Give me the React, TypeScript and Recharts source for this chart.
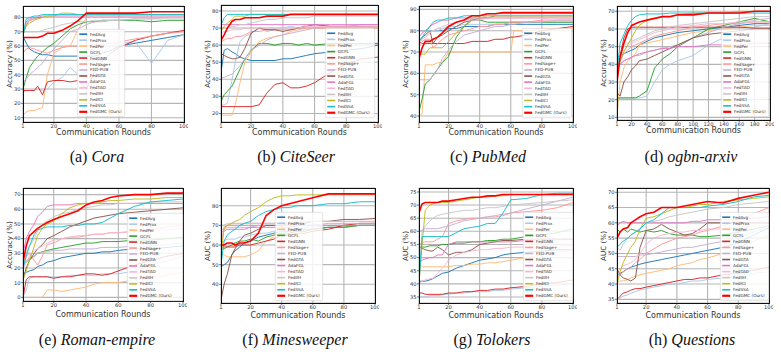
import React from 'react';
import { LineChart, Line, XAxis, YAxis, CartesianGrid } from 'recharts';

// ---- series (method) names and colours ----
const SERIES_NAMES = [
  'FedAvg', 'FedProx', 'FedPer', 'GCFL', 'FedGNN', 'FedSage+', 'FED-PUB',
  'FedGTA', 'AdaFGL', 'FedTAD', 'FedIIH', 'FedICI', 'FedSSA', 'FedGMC (Ours)',
];
const SERIES_COLORS = [
  '#1f77b4', '#aec7e8', '#ffbb78', '#2ca02c', '#d62728', '#ff9896', '#c5b0d5',
  '#8c564b', '#e377c2', '#f7b6d2', '#c7c7c7', '#bcbd22', '#17becf', '#ff0000',
];

// ---- tick labels ----
const X_TICKS_100 = [1, 20, 40, 60, 80, 100];
const X_TICKS_200 = [1, 20, 40, 60, 80, 100, 120, 140, 160, 180, 200];

// ---- communication rounds sampled per dataset ----
const rounds100 = [1, 3, 5, 8, 10, 13, 16, 20, 25, 30, 35, 40, 45, 50, 55, 60, 70, 80, 90, 100];
const pubmedRounds = [1, 3, 5, 8, 10, 13, 16, 20, 25, 30, 35, 40, 45, 50, 55, 60, 62, 70, 80, 90, 100];
const arxivRounds = [1, 5, 10, 15, 20, 25, 30, 40, 50, 60, 70, 80, 100, 120, 140, 160, 180, 200];

// ---- (a) Cora accuracy ----
const coraAcc: Record<string, number[]> = {
  'FedAvg': [67, 62, 58, 56, 55, 54, 54, 53, 53, 53, 53, 53, 53, 55, 57, 60, 62, 64, 66, 68],
  'FedProx': [28, 29, 29, 29, 30, 29, 30, 35, 38, 45, 40, 42, 50, 55, 60, 62, 63, 48, 64, 68],
  'FedPer': [12, 14, 15, 15, 16, 17, 40, 55, 59, 60, 72, 80, 80, 80, 80, 80, 80, 80, 80, 80],
  'GCFL': [30, 38, 45, 50, 53, 56, 59, 62, 67, 72, 75, 77, 77, 78, 78, 78, 78, 77, 78, 78],
  'FedGNN': [29, 29, 29, 29, 32, 26, 35, 36, 36, 35, 36, 30, 42, 50, 55, 59, 64, 67, 69, 71],
  'FedSage+': [55, 58, 59, 58, 57, 56, 55, 57, 59, 60, 60, 60, 61, 61, 62, 63, 65, 67, 69, 70],
  'FED-PUB': [35, 37, 40, 43, 45, 48, 53, 58, 64, 70, 72, 75, 77, 77, 78, 78, 79, 79, 80, 80],
  'FedGTA': [68, 75, 78, 79, 80, 80, 80, 80, 80, 80, 80, 80, 80, 80, 80, 80, 80, 80, 80, 80],
  'AdaFGL': [70, 77, 79, 80, 80, 81, 81, 81, 81, 81, 81, 81, 81, 81, 81, 81, 81, 81, 81, 81],
  'FedTAD': [69, 76, 78, 79, 79, 80, 80, 80, 80, 80, 80, 80, 80, 80, 80, 80, 80, 80, 80, 80],
  'FedIIH': [70, 70, 70, 70, 70, 71, 72, 73, 75, 76, 77, 77, 78, 78, 78, 78, 79, 79, 79, 79],
  'FedICI': [68, 74, 76, 78, 79, 80, 81, 81, 83, 83, 82, 82, 82, 82, 82, 82, 82, 82, 82, 82],
  'FedSSA': [67, 79, 80, 81, 81, 82, 82, 82, 82, 82, 82, 82, 82, 82, 82, 82, 82, 82, 82, 82],
  'FedGMC (Ours)': [66, 66, 66, 66, 66, 67, 69, 69, 71, 74, 78, 83, 83, 83, 83, 83, 83, 84, 84, 84],
};

// ---- (b) CiteSeer accuracy ----
const citeseerAcc: Record<string, number[]> = {
  'FedAvg': [44, 57, 58, 56, 55, 53, 52, 51, 51, 51, 51, 52, 52, 53, 54, 55, 56, 57, 58, 60],
  'FedProx': [25, 25, 26, 40, 50, 62, 65, 67, 70, 68, 69, 70, 71, 70, 72, 72, 71, 70, 71, 70],
  'FedPer': [19, 19, 19, 19, 25, 38, 50, 56, 62, 64, 65, 66, 68, 69, 70, 70, 70, 70, 70, 70],
  'GCFL': [27, 31, 33, 36, 40, 46, 52, 57, 61, 61, 60, 61, 61, 60, 61, 60, 61, 61, 61, 61],
  'FedGNN': [24, 24, 24, 24, 24, 24, 24, 24, 25, 32, 37, 38, 35, 35, 36, 38, 44, 49, 52, 53],
  'FedSage+': [62, 63, 64, 64, 65, 65, 66, 68, 68, 69, 69, 69, 69, 70, 70, 70, 70, 70, 70, 70],
  'FED-PUB': [41, 41, 42, 43, 45, 48, 52, 57, 60, 63, 65, 66, 67, 68, 69, 70, 71, 71, 72, 72],
  'FedGTA': [55, 54, 53, 52, 52, 53, 58, 67, 70, 69, 69, 68, 69, 70, 71, 72, 71, 71, 71, 71],
  'AdaFGL': [72, 72, 72, 72, 72, 72, 72, 72, 72, 72, 72, 72, 72, 72, 72, 72, 72, 72, 72, 72],
  'FedTAD': [67, 68, 68, 69, 69, 69, 70, 70, 70, 70, 70, 70, 70, 70, 71, 71, 71, 71, 71, 71],
  'FedIIH': [70, 70, 70, 71, 71, 72, 72, 73, 74, 75, 75, 76, 76, 76, 76, 77, 77, 77, 77, 77],
  'FedICI': [68, 71, 73, 75, 77, 77, 77, 78, 78, 78, 78, 78, 78, 78, 78, 78, 78, 78, 78, 78],
  'FedSSA': [72, 76, 78, 78, 78, 78, 78, 78, 78, 78, 78, 78, 78, 78, 78, 78, 78, 78, 78, 78],
  'FedGMC (Ours)': [63, 66, 70, 74, 75, 75, 76, 76, 76, 77, 77, 77, 78, 78, 78, 78, 78, 78, 78, 78],
};

// ---- (c) PubMed accuracy ----
const pubmedAcc: Record<string, number[]> = {
  'FedAvg': [80, 80, 80, 80, 80, 80, 80, 81, 81, 82, 82, 82, 82, 83, 83, 83, 83, 83, 83, 83, 83],
  'FedProx': [75, 76, 77, 79, 80, 80, 81, 82, 82, 83, 83, 83, 83, 83, 83, 84, 84, 84, 84, 84, 84],
  'FedPer': [40, 41, 64, 64, 64, 65, 65, 70, 70, 70, 70, 70, 70, 70, 70, 70, 80, 80, 81, 81, 81],
  'GCFL': [42, 48, 55, 57, 59, 62, 65, 68, 77, 82, 85, 85, 84, 84, 84, 84, 84, 84, 84, 84, 84],
  'FedGNN': [75, 74, 74, 74, 74, 74, 74, 74, 74, 74, 75, 75, 75, 76, 76, 77, 77, 78, 80, 81, 82],
  'FedSage+': [72, 75, 76, 76, 72, 74, 76, 78, 79, 80, 81, 82, 82, 83, 83, 84, 84, 84, 85, 85, 85],
  'FED-PUB': [57, 57, 57, 57, 59, 62, 67, 71, 75, 78, 79, 80, 81, 82, 82, 83, 83, 84, 84, 85, 85],
  'FedGTA': [75, 77, 78, 80, 74, 77, 78, 80, 82, 84, 85, 86, 86, 87, 87, 87, 87, 87, 87, 87, 87],
  'AdaFGL': [77, 79, 80, 82, 83, 84, 85, 85, 86, 86, 86, 86, 86, 86, 86, 86, 86, 86, 86, 86, 86],
  'FedTAD': [74, 76, 77, 79, 80, 81, 82, 83, 84, 85, 85, 85, 86, 86, 86, 86, 86, 86, 86, 86, 86],
  'FedIIH': [80, 80, 80, 80, 80, 81, 81, 82, 84, 85, 86, 86, 87, 87, 87, 87, 87, 87, 87, 87, 87],
  'FedICI': [69, 69, 69, 72, 72, 72, 72, 75, 79, 82, 86, 87, 87, 87, 87, 87, 87, 87, 87, 87, 87],
  'FedSSA': [75, 77, 79, 82, 84, 85, 85, 86, 86, 87, 87, 87, 88, 88, 88, 88, 88, 88, 88, 88, 88],
  'FedGMC (Ours)': [67, 72, 75, 75, 76, 77, 79, 82, 84, 85, 87, 87, 88, 88, 88.5, 88.5, 88.5, 88.5, 88.5, 88.5, 88.5],
};

// ---- (d) ogbn-arxiv accuracy ----
const arxivAcc: Record<string, number[]> = {
  'FedAvg': [44, 45, 46, 47, 48, 49, 51, 53, 55, 56, 57, 58, 59, 60, 61, 62, 63, 63],
  'FedProx': [20, 21, 21, 21, 21, 21, 21, 22, 30, 37, 40, 42, 45, 51, 55, 58, 61, 63],
  'FedPer': [10, 30, 38, 42, 44, 46, 51, 52, 53, 54, 55, 56, 58, 59, 60, 61, 62, 62],
  'GCFL': [21, 21, 21, 21, 21, 21, 22, 25, 38, 43, 46, 50, 55, 60, 62, 64, 66, 64],
  'FedGNN': [30, 45, 55, 60, 61, 61, 61, 61, 61, 61, 61, 61, 61, 61, 61, 61, 60.5, 60.5],
  'FedSage+': [35, 42, 46, 48, 50, 51, 52, 54, 56, 57, 58, 59, 61, 62, 63, 63, 64, 64],
  'FED-PUB': [38, 40, 42, 43, 44, 45, 45, 47, 48, 49, 50, 51, 55, 58, 61, 63, 65, 66],
  'FedGTA': [24, 22, 30, 33, 37, 39, 42, 43, 45, 47, 49, 51, 55, 57, 58, 59, 60, 60],
  'AdaFGL': [38, 40, 42, 43, 44, 45, 46, 47, 48, 49, 49, 50, 50, 51, 51, 51, 52, 52],
  'FedTAD': [40, 45, 48, 50, 52, 53, 54, 56, 58, 59, 60, 61, 62, 63, 63, 64, 64, 64],
  'FedIIH': [45, 47, 50, 52, 53, 54, 55, 57, 59, 60, 61, 62, 63, 64, 65, 66, 67, 67],
  'FedICI': [35, 42, 47, 51, 55, 59, 62, 65, 66, 67, 67, 68, 69, 69, 69, 70, 70, 70],
  'FedSSA': [35, 52, 57, 62, 65, 67, 68, 68.5, 68.5, 68.5, 69, 69, 69, 69, 69, 69, 69, 69],
  'FedGMC (Ours)': [30, 44, 52, 58, 62, 63, 64, 65, 66, 67, 67, 68, 68, 69, 69, 69, 70, 70],
};

// ---- (e) Roman-empire accuracy ----
const romanAcc: Record<string, number[]> = {
  'FedAvg': [16, 17, 18, 19, 21, 22, 24, 25, 27, 28, 29, 30, 30, 31, 31, 32, 33, 33, 34, 35],
  'FedProx': [0, 5, 13, 14, 14, 14, 14, 14, 14, 15, 15, 15, 15, 16, 16, 16, 18, 22, 25, 28],
  'FedPer': [0, 0, 0, 0, 0, 0, 5, 5, 4, 5, 6, 7, 9, 10, 10, 10, 12, 13, 15, 17],
  'GCFL': [22, 24, 26, 28, 30, 31, 32, 33, 34, 35, 36, 37, 37, 38, 38, 38, 39, 39, 40, 41],
  'FedGNN': [0, 12, 14, 14, 14, 14, 14, 13, 14, 14, 15, 16, 16, 15, 16, 18, 22, 25, 28, 30],
  'FedSage+': [20, 28, 30, 25, 22, 28, 36, 37, 40, 41, 41, 42, 43, 43, 44, 44, 45, 46, 48, 49],
  'FED-PUB': [22, 25, 27, 28, 30, 31, 31, 32, 32, 33, 33, 33, 33, 34, 34, 34, 35, 35, 36, 37],
  'FedGTA': [12, 20, 25, 30, 33, 36, 40, 42, 45, 48, 50, 52, 54, 55, 56, 57, 58, 59, 60, 61],
  'AdaFGL': [30, 40, 45, 50, 55, 58, 62, 63, 63, 63, 64, 64, 64, 64, 64, 64, 64, 64, 64, 64],
  'FedTAD': [18, 24, 28, 32, 33, 35, 37, 39, 40, 41, 42, 42, 43, 43, 44, 44, 45, 46, 46, 47],
  'FedIIH': [20, 30, 35, 40, 45, 50, 52, 55, 57, 58, 60, 61, 62, 63, 63, 64, 64, 65, 65, 65],
  'FedICI': [12, 18, 25, 35, 42, 47, 50, 52, 57, 61, 63, 64, 64, 65, 66, 66, 67, 67, 68, 68],
  'FedSSA': [20, 28, 35, 43, 46, 47, 48, 48, 48, 49, 49, 50, 50, 51, 54, 57, 62, 65, 66, 67],
  'FedGMC (Ours)': [24, 35, 42, 45, 47, 49, 51, 53, 55, 57, 59, 63, 65, 66, 68, 69, 70, 70, 71, 71],
};

// ---- (f) Minesweeper AUC ----
const minesweeperAuc: Record<string, number[]> = {
  'FedAvg': [49, 50, 51, 55, 57, 59, 61, 62, 64, 65, 66, 67, 67, 68, 68, 68, 69, 69, 70, 70],
  'FedProx': [61, 62, 63, 63, 63, 64, 64, 65, 66, 66, 67, 67, 68, 68, 69, 69, 70, 70, 71, 71],
  'FedPer': [55, 55, 54, 54, 54, 54, 54, 55, 57, 62, 64, 65, 66, 67, 67, 68, 69, 69, 70, 70],
  'GCFL': [58, 58, 59, 60, 61, 62, 62, 63, 62, 64, 65, 66, 66, 67, 67, 68, 69, 69, 70, 70],
  'FedGNN': [59, 59, 59, 59, 59, 60, 60, 60, 61, 62, 63, 65, 65, 66, 66, 67, 68, 70, 71, 71],
  'FedSage+': [62, 68, 70, 70, 70, 70, 71, 71, 71, 71, 71, 71, 71, 71, 71, 72, 72, 72, 72, 72],
  'FED-PUB': [68, 68, 69, 69, 69, 69, 69, 69, 70, 70, 70, 70, 70, 70, 70, 70, 71, 71, 71, 71],
  'FedGTA': [32, 40, 45, 55, 58, 62, 65, 66, 68, 70, 70, 70, 71, 71, 71, 72, 72, 73, 73, 73.5],
  'AdaFGL': [67, 67, 68, 68, 68, 68, 68, 69, 69, 69, 69, 69, 69, 70, 70, 70, 70, 70, 70, 70],
  'FedTAD': [55, 70, 70, 71, 71, 71, 71, 71, 71, 71, 71, 71, 71, 72, 72, 72, 72, 72, 72, 72],
  'FedIIH': [70, 70, 71, 71, 71, 71, 71, 71, 71, 71, 71, 71, 72, 72, 72, 72, 72, 72, 72, 72],
  'FedICI': [55, 69, 70, 71, 72, 73, 75, 77, 79, 82, 84, 85, 85, 85.5, 85.5, 85.5, 85.5, 85.5, 85.5, 85.5],
  'FedSSA': [50, 62, 65, 67, 68, 70, 71, 72, 75, 77, 78, 79, 79, 80, 80, 80, 81, 81, 82, 82],
  'FedGMC (Ours)': [60, 60, 61, 61, 60, 61, 61, 62, 66, 75, 78, 80, 81, 82, 83, 84, 86, 86, 86, 86],
};

// ---- (g) Tolokers AUC ----
const tolokersAuc: Record<string, number[]> = {
  'FedAvg': [41, 41, 41, 41.5, 42, 43, 44, 44.5, 46, 47, 48, 49, 49.5, 50, 51, 51.5, 52, 52.5, 53, 53],
  'FedProx': [35, 35, 35, 35.5, 35.5, 35.5, 36, 36, 36.5, 36.5, 37, 37, 37, 37.5, 37.5, 38, 38.5, 39, 39.5, 40],
  'FedPer': [48, 46.5, 46.5, 46.5, 46.5, 46.5, 46.5, 46.5, 47, 47, 47.5, 47.5, 48, 48, 48.5, 49, 50, 51, 52, 53],
  'GCFL': [54, 54, 54, 54.5, 54.5, 54.5, 55, 55, 55.5, 55.5, 56, 56, 56.5, 56.5, 57, 57, 58, 58.5, 59.5, 61],
  'FedGNN': [36.5, 36.5, 36, 36, 36, 36, 36, 36.5, 36.5, 37, 37, 37.5, 37.5, 38, 38, 38.5, 39, 40, 40.5, 41.5],
  'FedSage+': [55, 55.5, 56, 56, 56, 57, 58, 63, 64, 64.5, 65, 65, 65.5, 65.5, 66, 67, 67.5, 68, 69, 71],
  'FED-PUB': [60, 60.5, 61, 61, 61, 61, 61.5, 62, 63, 64, 64.5, 65, 65.5, 66, 66.5, 67, 68.5, 70, 71.5, 73],
  'FedGTA': [54, 53.5, 53, 52.5, 52.5, 54, 53, 51, 52, 52, 53, 55, 55.5, 56, 56.5, 56.5, 57, 57, 57, 57],
  'AdaFGL': [48, 49, 49.5, 50, 50, 51, 51, 55, 56, 56, 56, 56, 56, 56, 56, 56, 56.5, 57, 57, 57],
  'FedTAD': [40, 41, 41.5, 42, 42, 44, 46, 49, 51, 52, 52.5, 53, 53, 53.5, 53.5, 54, 54, 54.5, 54.5, 54.5],
  'FedIIH': [41, 60, 62, 64, 65, 66, 66.5, 67, 67.5, 68, 68, 68.5, 69, 69, 69.5, 70, 70.5, 71, 71.5, 72],
  'FedICI': [40, 55, 68, 70, 70.5, 71, 71, 71, 71.5, 72, 72.5, 73, 73, 73.5, 73.5, 74, 74, 74, 74, 74],
  'FedSSA': [40, 58, 58, 58, 58, 58, 58, 58, 59.5, 61, 61.5, 62, 63, 63, 67, 72, 72.5, 74, 74.5, 74.5],
  'FedGMC (Ours)': [67, 70.5, 71, 71, 71, 71, 71.5, 71.5, 72, 72.5, 73, 73, 73.5, 73.5, 74, 74, 74, 74, 74, 74],
};

// ---- (h) Questions AUC ----
const questionsAuc: Record<string, number[]> = {
  'FedAvg': [43, 43.5, 44, 45, 45.5, 46, 46.5, 47, 47.5, 48, 48.5, 49, 49.5, 50, 50.5, 51, 52, 53.5, 56, 58.5],
  'FedProx': [34.5, 35.5, 36, 36.5, 37, 37.5, 38, 38.5, 39, 39.5, 40, 40, 40.5, 41, 41, 41.5, 42, 43, 43.5, 44],
  'FedPer': [40.5, 41, 41, 41.5, 42, 42.5, 43, 43.5, 44, 44.5, 45, 46, 46.5, 47, 48, 48.5, 50, 52, 54, 56],
  'GCFL': [58, 57, 58, 57, 58, 57.5, 57, 57.5, 57, 57.5, 56.5, 56, 56, 56, 55.5, 55.5, 56, 57, 58, 59],
  'FedGNN': [35, 36, 37, 37.5, 38, 38.5, 38.5, 39, 39.5, 40, 40.5, 41, 41.5, 41.5, 42, 42, 43, 43.5, 44.5, 45.5],
  'FedSage+': [42, 43, 44, 45, 45.5, 47, 48, 50, 51.5, 53, 54, 55, 55.5, 56, 57, 57.5, 59, 61, 63, 65],
  'FED-PUB': [49, 49, 49, 49, 49, 49, 49.5, 49.5, 50, 50.5, 51, 51.5, 52, 52, 52.5, 53, 54, 55, 57, 59],
  'FedGTA': [45, 43, 42, 41.5, 41, 42, 52, 57.5, 58, 59.5, 58, 57, 56, 56.5, 58, 60, 60, 60, 60, 60],
  'AdaFGL': [59, 60, 60.5, 60, 60, 60, 60, 60, 60, 60, 60, 60, 60, 60.5, 60.5, 61, 61, 61, 61.5, 62],
  'FedTAD': [44, 45, 46, 46.5, 47, 48, 50, 53, 55, 56, 56.5, 57, 57, 57.5, 57.5, 58, 58, 58.5, 59, 59],
  'FedIIH': [52, 51, 53, 55, 56, 57, 58, 60, 60.5, 61, 62, 62.5, 63, 63.5, 64, 64.5, 65, 66, 66.5, 67],
  'FedICI': [40, 44, 47, 50, 52, 54, 58, 61.5, 62, 63, 64, 65, 65, 65.5, 66, 66, 67, 67.5, 68, 68.5],
  'FedSSA': [52, 53, 54, 55, 56, 57, 58, 60, 61, 63, 65, 65, 65, 65, 65, 65.5, 66, 67, 68.5, 69],
  'FedGMC (Ours)': [55, 57, 58, 58.5, 60, 61, 62, 63, 63.5, 65, 65, 65, 65.5, 66, 66.5, 67, 66.5, 68, 69, 70],
};

type Rect = { L: number; R: number; T: number; B: number };
type Panel = {
  tag: string;
  name: string;
  metric: string;
  rounds: number[];
  values: Record<string, number[]>;
  yDomain: [number, number];
  yTicks: number[];
  xMax: number;
  xTicks: number[];
  plot: Rect;
  legend: { x: number; y: number; w: number; h: number };
  caption: { cx: number; cy: number };
  xLabelY: number;
};

const PANELS: Panel[] = [
  {
    tag: '(a)', name: 'Cora', metric: 'Accuracy (%)', rounds: rounds100, values: coraAcc,
    yDomain: [7, 88], yTicks: [10, 20, 30, 40, 50, 60, 70, 80], xMax: 100, xTicks: X_TICKS_100,
    plot: { L: 23, R: 184, T: 6, B: 122 }, legend: { x: 77, y: 29, w: 48, h: 88 },
    caption: { cx: 97, cy: 157 }, xLabelY: 133,
  },
  {
    tag: '(b)', name: 'CiteSeer', metric: 'Accuracy (%)', rounds: rounds100, values: citeseerAcc,
    yDomain: [15, 83.5], yTicks: [20, 30, 40, 50, 60, 70, 80], xMax: 100, xTicks: X_TICKS_100,
    plot: { L: 221, R: 378, T: 5, B: 122 }, legend: { x: 325, y: 28, w: 50, h: 90 },
    caption: { cx: 296, cy: 157 }, xLabelY: 133,
  },
  {
    tag: '(c)', name: 'PubMed', metric: 'Accuracy (%)', rounds: pubmedRounds, values: pubmedAcc,
    yDomain: [37.2, 91.6], yTicks: [40, 50, 60, 70, 80, 90], xMax: 100, xTicks: X_TICKS_100,
    plot: { L: 419, R: 573, T: 6, B: 122 }, legend: { x: 522, y: 28, w: 50, h: 90 },
    caption: { cx: 488, cy: 157 }, xLabelY: 133,
  },
  {
    tag: '(d)', name: 'ogbn-arxiv', metric: 'Accuracy (%)', rounds: arxivRounds, values: arxivAcc,
    yDomain: [8.5, 73], yTicks: [10, 20, 30, 40, 50, 60, 70], xMax: 200, xTicks: X_TICKS_200,
    plot: { L: 617, R: 770, T: 6, B: 120 }, legend: { x: 721, y: 29, w: 48, h: 88 },
    caption: { cx: 691, cy: 157 }, xLabelY: 131,
  },
  {
    tag: '(e)', name: 'Roman-empire', metric: 'Accuracy (%)', rounds: rounds100, values: romanAcc,
    yDomain: [-2.5, 74.5], yTicks: [0, 10, 20, 30, 40, 50, 60, 70], xMax: 100, xTicks: X_TICKS_100,
    plot: { L: 23, R: 183, T: 188, B: 301 }, legend: { x: 127, y: 213, w: 56, h: 88 },
    caption: { cx: 97, cy: 340 }, xLabelY: 315,
  },
  {
    tag: '(f)', name: 'Minesweeper', metric: 'AUC (%)', rounds: rounds100, values: minesweeperAuc,
    yDomain: [30.5, 89], yTicks: [40, 50, 60, 70, 80], xMax: 100, xTicks: X_TICKS_100,
    plot: { L: 221, R: 375, T: 188, B: 303 }, legend: { x: 275, y: 212, w: 48, h: 89 },
    caption: { cx: 295, cy: 340 }, xLabelY: 316,
  },
  {
    tag: '(g)', name: 'Tolokers', metric: 'AUC (%)', rounds: rounds100, values: tolokersAuc,
    yDomain: [32.7, 76.5], yTicks: [35, 40, 45, 50, 55, 60, 65, 70, 75], xMax: 100, xTicks: X_TICKS_100,
    plot: { L: 419, R: 573, T: 188, B: 303 }, legend: { x: 523, y: 212, w: 50, h: 89 },
    caption: { cx: 492, cy: 340 }, xLabelY: 316,
  },
  {
    tag: '(h)', name: 'Questions', metric: 'AUC (%)', rounds: rounds100, values: questionsAuc,
    yDomain: [33.8, 71.4], yTicks: [35, 40, 45, 50, 55, 60, 65, 70], xMax: 100, xTicks: X_TICKS_100,
    plot: { L: 617, R: 769, T: 188, B: 303 }, legend: { x: 720, y: 212, w: 49, h: 89 },
    caption: { cx: 692, cy: 340 }, xLabelY: 316,
  },
];

const SANS = '"DejaVu Sans", Verdana, sans-serif';
const SERIF = '"Liberation Serif", "Times New Roman", serif';

const Y_AXIS_W = 22;
const M_TOP = 4;
const M_RIGHT = 4;
const X_AXIS_H = 10;

function buildRows(rounds: number[], values: Record<string, number[]>) {
  return rounds.map((r, i) => {
    const row: Record<string, number> = { round: r };
    SERIES_NAMES.forEach((n, k) => {
      row['s' + k] = values[n][i];
    });
    return row;
  });
}

const tickStyle = { fontSize: 5.2, fill: '#333', fontFamily: SANS };

function LegendBox({ p }: { p: Panel }) {
  const { w, h } = p.legend;
  const padY = 2.2;
  const step = (h - 2 * padY) / SERIES_NAMES.length;
  return (
    <svg
      width={w}
      height={h}
      style={{ position: 'absolute', left: p.legend.x, top: p.legend.y, overflow: 'visible' }}
    >
      <rect x={0.3} y={0.3} width={w - 0.6} height={h - 0.6} rx={1.5} fill="#fff" fillOpacity={0.82} stroke="#d0d0d0" strokeWidth={0.6} />
      {SERIES_NAMES.map((n, k) => {
        const cy = padY + step * (k + 0.5);
        return (
          <g key={n}>
            <line
              x1={2.2}
              x2={10.2}
              y1={cy}
              y2={cy}
              stroke={SERIES_COLORS[k]}
              strokeWidth={k === SERIES_NAMES.length - 1 ? 2.2 : 1.6}
            />
            <text x={13} y={cy} dy="0.35em" fontSize={4.2} fill="#333" fontFamily={SANS}>
              {n}
            </text>
          </g>
        );
      })}
    </svg>
  );
}

function PanelChart({ p }: { p: Panel }) {
  const { L, R, T, B } = p.plot;
  const width = R - L + Y_AXIS_W + M_RIGHT;
  const height = B - T + M_TOP + X_AXIS_H;
  const rows = buildRows(p.rounds, p.values);
  return (
    <>
      <div style={{ position: 'absolute', left: L - Y_AXIS_W, top: T - M_TOP }}>
        <LineChart
          width={width}
          height={height}
          data={rows}
          margin={{ top: M_TOP, right: M_RIGHT, bottom: 0, left: 0 }}
        >
          <CartesianGrid stroke="#b5b5b5" strokeWidth={1.1} />
          <XAxis
            dataKey="round"
            type="number"
            domain={[1, p.xMax]}
            ticks={p.xTicks}
            allowDataOverflow
            height={X_AXIS_H}
            axisLine={false}
            tickSize={2}
            tickMargin={0.5}
            tickLine={{ stroke: '#222', strokeWidth: 0.6 }}
            tick={tickStyle}
            interval={0}
          />
          <YAxis
            type="number"
            domain={p.yDomain}
            ticks={p.yTicks}
            allowDataOverflow
            width={Y_AXIS_W}
            axisLine={false}
            tickSize={2}
            tickMargin={0.5}
            tickLine={{ stroke: '#222', strokeWidth: 0.6 }}
            tick={tickStyle}
            interval={0}
          />
          {SERIES_NAMES.map((n, k) => (
            <Line
              key={n}
              dataKey={'s' + k}
              name={n}
              type="linear"
              stroke={SERIES_COLORS[k]}
              strokeWidth={k === SERIES_NAMES.length - 1 ? 1.6 : 0.95}
              dot={false}
              activeDot={false}
              isAnimationActive={false}
            />
          ))}
        </LineChart>
      </div>
      {/* plot frame */}
      <div
        style={{
          position: 'absolute', left: L - 0.5, top: T - 0.5, width: R - L + 1, height: B - T + 1,
          border: '0.9px solid #111', boxSizing: 'border-box', pointerEvents: 'none',
        }}
      />
      {/* y axis title */}
      <div style={{ position: 'absolute', left: L - 13, top: (T + B) / 2, width: 0, height: 0 }}>
        <div
          style={{
            position: 'absolute', transform: 'translate(-50%, -50%) rotate(-90deg)',
            whiteSpace: 'nowrap', fontFamily: SANS, fontSize: 7.2, color: '#333', lineHeight: 1,
          }}
        >
          {p.metric}
        </div>
      </div>
      {/* x axis title */}
      <div style={{ position: 'absolute', left: (L + R) / 2, top: p.xLabelY, width: 0, height: 0 }}>
        <div
          style={{
            position: 'absolute', transform: 'translate(-50%, -50%)', whiteSpace: 'nowrap',
            fontFamily: SANS, fontSize: 8, color: '#333', lineHeight: 1,
          }}
        >
          Communication Rounds
        </div>
      </div>
      <LegendBox p={p} />
      {/* caption */}
      <div style={{ position: 'absolute', left: p.caption.cx, top: p.caption.cy, width: 0, height: 0 }}>
        <div
          style={{
            position: 'absolute', transform: 'translate(-50%, -50%)', whiteSpace: 'nowrap',
            fontFamily: SERIF, fontSize: 16, color: '#111', lineHeight: 1,
          }}
        >
          {p.tag} <i>{p.name}</i>
        </div>
      </div>
    </>
  );
}

export default function App() {
  return (
    <div style={{ position: 'relative', width: 781, height: 355, background: '#fff', overflow: 'hidden' }}>
      <style>{'body{margin:0;background:#fff;}'}</style>
      {PANELS.map((p) => (
        <PanelChart key={p.name} p={p} />
      ))}
    </div>
  );
}
